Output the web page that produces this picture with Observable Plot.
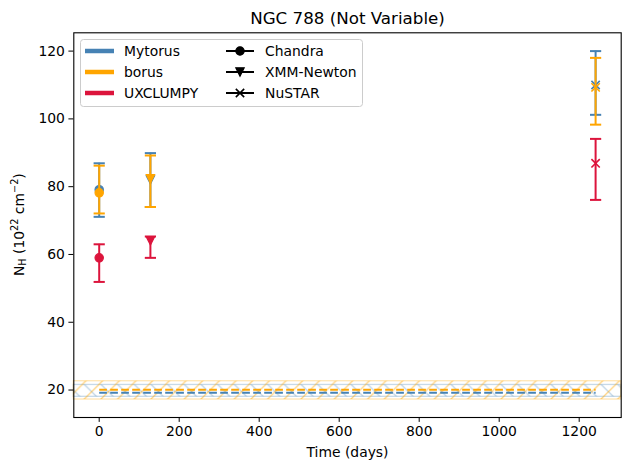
<!DOCTYPE html>
<html><head><meta charset="utf-8">
<script src="https://cdn.jsdelivr.net/npm/d3@7"></script>
<script src="https://cdn.jsdelivr.net/npm/@observablehq/plot@0.6"></script>
<style>body{margin:0;background:#fff;} svg{font-family:"DejaVu Sans",sans-serif;}</style>
</head><body><div id="chart"></div>
<script>
const title = "NGC 788 (Not Variable)";
const telescopes = ["Chandra", "XMM-Newton", "NuSTAR"];
const times = [0, 128, 1241];
const models = ["Mytorus", "borus", "UXCLUMPY"];
const modelColors = ["steelblue", "orange", "crimson"];
const mytorusNH = [79.1, 82.0, 110.0];
const mytorusLo = [71.1, 74.0, 101.2];
const mytorusHi = [86.9, 89.9, 120.0];
const borusNH = [78.2, 82.3, 109.3];
const borusLo = [72.1, 74.0, 98.3];
const borusHi = [86.2, 89.2, 118.0];
const uxclumpyNH = [59.0, 64.0, 86.9];
const uxclumpyLo = [51.9, 59.0, 76.1];
const uxclumpyHi = [63.0, 65.3, 94.1];
// mean N_H bands (Mytorus, borus)
const bandModels = ["Mytorus", "borus"];
const bandLo = [18.0, 17.2];
const bandHi = [21.5, 22.6];
const bandMean = [19.2, 20.1];
const xTicks = [0, 200, 400, 600, 800, 1000, 1200];
const yTicks = [20, 40, 60, 80, 100, 120];
const xDomain = [-63.5, 1305];
const yDomain = [11.9, 125.4];

const nh = [mytorusNH, borusNH, uxclumpyNH];
const lo = [mytorusLo, borusLo, uxclumpyLo];
const hi = [mytorusHi, borusHi, uxclumpyHi];

// custom symbols
const triDown = {draw(ctx, size) { const h = Math.sqrt(size / Math.PI); ctx.moveTo(0, h); ctx.lineTo(-h, -h); ctx.lineTo(h, -h); ctx.closePath(); }};
const xMark = {draw(ctx, size) { const h = Math.sqrt(size / Math.PI); ctx.moveTo(-h, -h); ctx.lineTo(h, h); ctx.moveTo(-h, h); ctx.lineTo(h, -h); }};
const capMark = {draw(ctx, size) { const h = Math.sqrt(size / Math.PI); ctx.moveTo(-h, 0); ctx.lineTo(h, 0); }};
const telSymbols = ["circle", triDown, xMark];

const marks = [];
// bands
const patIds = ["hatchBlue", "hatchOrange"];
bandModels.forEach((m, i) => {
  const row = [{x1: xDomain[0], x2: xDomain[1], lo: bandLo[i], hi: bandHi[i]}];
  marks.push(Plot.rect(row, {x1: "x1", x2: "x2", y1: "lo", y2: "hi", fill: `url(#${patIds[i]})`, stroke: modelColors[i], strokeOpacity: 0.3, strokeWidth: 1.3}));
});
bandModels.forEach((m, i) => {
  const row = [{a: d3.min(times), b: d3.max(times), y: bandMean[i]}];
  marks.push(Plot.link(row, {x1: "a", x2: "b", y1: "y", y2: "y", stroke: modelColors[i], strokeWidth: 2, strokeDasharray: "7.7,3.3"}));
});
// error bars and markers
models.forEach((m, i) => {
  const rows = telescopes.map((t, j) => ({model: m, telescope: t, t: times[j], nh: nh[i][j], lo: lo[i][j], hi: hi[i][j]}));
  const c = modelColors[i];
  marks.push(Plot.ruleX(rows, {x: "t", y1: "lo", y2: "hi", stroke: c, strokeWidth: 2}));
  marks.push(Plot.dot(rows, {x: "t", y: "lo", symbol: capMark, r: 5.6, stroke: c, fill: "none", strokeWidth: 2}));
  marks.push(Plot.dot(rows, {x: "t", y: "hi", symbol: capMark, r: 5.6, stroke: c, fill: "none", strokeWidth: 2}));
  telescopes.forEach((t, j) => {
    const sym = telSymbols[j];
    const isX = sym === xMark;
    marks.push(Plot.dot(rows.filter(d => d.telescope === t), {x: "t", y: "nh", symbol: sym, r: 4.17, fill: isX ? "none" : c, stroke: c, strokeWidth: isX ? 1.6 : 1.2}));
  });
});
marks.push(Plot.frame({stroke: "black", strokeWidth: 1.1}));
marks.push(Plot.axisX({ticks: xTicks, tickFormat: d => String(d), tickSize: 4.9, tickPadding: 4, label: null}));
marks.push(Plot.axisY({ticks: yTicks, tickFormat: d => String(d), tickSize: 4.9, tickPadding: 4, label: null}));
marks.push(Plot.text(["Time (days)"], {frameAnchor: "bottom", lineAnchor: "middle", dy: 35, fontSize: 13.9}));
marks.push(Plot.text([title], {frameAnchor: "top", lineAnchor: "middle", dy: -14.5, fontSize: 16.7}));

const svg = Plot.plot({
  width: 630, height: 470,
  marginLeft: 73.3, marginRight: 9.3, marginTop: 32.3, marginBottom: 53,
  x: {domain: xDomain},
  y: {domain: yDomain},
  style: {fontFamily: "DejaVu Sans, sans-serif", fontSize: "13.9px", background: "white", color: "black"},
  marks
});

const s = d3.select(svg);
const defs = s.insert("defs", ":first-child");
const P = 16.67;
const pb = defs.append("pattern").attr("id", "hatchBlue").attr("patternUnits", "userSpaceOnUse").attr("width", P).attr("height", P);
pb.append("path").attr("d", `M0,0L${P},${P}M${-P/2},${P/2}L${P/2},${P*1.5}M${P/2},${-P/2}L${P*1.5},${P/2}`).attr("stroke", "steelblue").attr("stroke-opacity", 0.35).attr("stroke-width", 1.3).attr("fill", "none");
const po = defs.append("pattern").attr("id", "hatchOrange").attr("patternUnits", "userSpaceOnUse").attr("width", P).attr("height", P);
po.append("path").attr("d", `M0,${P}L${P},0M${-P/2},${P/2}L${P/2},${-P/2}M${P/2},${P*1.5}L${P*1.5},${P/2}`).attr("stroke", "orange").attr("stroke-opacity", 0.5).attr("stroke-width", 1.3).attr("fill", "none");

// y label with sub/superscripts
const yl = s.append("text").attr("transform", "translate(20,224.7) rotate(-90)").attr("text-anchor", "middle").attr("dominant-baseline", "middle").style("font-size", "13.9px").attr("fill", "black");
yl.append("tspan").text("N");
yl.append("tspan").attr("dy", 3).style("font-size", "9.7px").text("H");
yl.append("tspan").attr("dy", -3).text(" (10");
yl.append("tspan").attr("dy", -5).style("font-size", "9.7px").text("22");
yl.append("tspan").attr("dy", 5).text(" cm");
yl.append("tspan").attr("dy", -5).style("font-size", "9.7px").text("\u22122");
yl.append("tspan").attr("dy", 5).text(")");

// legend
const lg = s.append("g").attr("text-anchor", "start");
lg.append("rect").attr("x", 80.5).attr("y", 39.5).attr("width", 282).attr("height", 67).attr("rx", 3).attr("fill", "white").attr("fill-opacity", 0.8).attr("stroke", "#cccccc");
const rowsY = [51, 72, 93];
models.forEach((m, i) => {
  lg.append("line").attr("x1", 85).attr("x2", 114).attr("y1", rowsY[i]).attr("y2", rowsY[i]).attr("stroke", modelColors[i]).attr("stroke-width", 4.5);
  lg.append("text").attr("x", 124).attr("y", rowsY[i]).attr("text-anchor", "start").attr("dominant-baseline", "central").style("font-size", "13.9px").attr("fill", "black").text(m);
});
telescopes.forEach((t, j) => {
  const y = rowsY[j];
  lg.append("line").attr("x1", 226).attr("x2", 254).attr("y1", y).attr("y2", y).attr("stroke", "black").attr("stroke-width", 2);
  const sym = telSymbols[j];
  const p = d3.path();
  const size = Math.PI * 4.17 * 4.17;
  if (sym === "circle") d3.symbolCircle.draw(p, size); else sym.draw(p, size);
  lg.append("path").attr("d", p.toString()).attr("transform", `translate(240,${y})`).attr("fill", sym === xMark ? "none" : "black").attr("stroke", "black").attr("stroke-width", sym === xMark ? 1.6 : 1.2);
  lg.append("text").attr("x", 265).attr("y", y).attr("text-anchor", "start").attr("dominant-baseline", "central").style("font-size", "13.9px").attr("fill", "black").text(t);
});

document.getElementById("chart").appendChild(svg);
</script>
</body></html>
